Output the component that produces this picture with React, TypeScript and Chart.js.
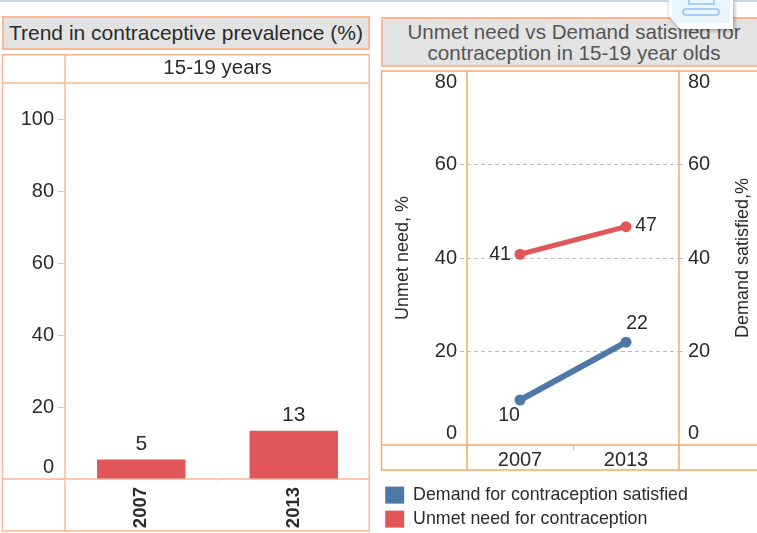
import React, { useEffect, useRef } from "react";
import { Chart, registerables } from "chart.js";

Chart.register(...registerables);

const years = ["2007", "2013"];
const prevalence = [5.4, 13.4];
const prevalenceTicks = [0, 20, 40, 60, 80, 100];
const demandSatisfied = [9.6, 22];
const unmetNeed = [40.8, 46.7];
const pairTicks = [0, 20, 40, 60, 80];

const FONT = "'Liberation Sans', Arial, sans-serif";
const INK = "#2b2b2b";
const RED = "#e15759";
const BLUE = "#4e79a7";
const PEACH = "#fdb795";
const ORANGE = "#f6ab68";
const GRID = "#bdbdbd";

const round = (v: number) => String(Math.round(v));

const framePlugin = {
  id: "frame",
  beforeDraw(chart: any, _a: any, o: any) {
    const { ctx, chartArea: c, width } = chart;
    const bottom = o.bottom ?? chart.height - 1 - c.bottom;
    const l = o.left ?? 1.5;
    ctx.save();
    ctx.strokeStyle = o.color;
    ctx.lineWidth = 1.5;
    ctx.beginPath();
    ctx.moveTo(width, o.top);
    ctx.lineTo(l, o.top);
    ctx.lineTo(l, c.bottom + bottom);
    ctx.lineTo(width, c.bottom + bottom);
    ctx.moveTo(l, c.bottom);
    ctx.lineTo(width, c.bottom);
    ctx.moveTo(c.left, o.top);
    ctx.lineTo(c.left, c.bottom + bottom);
    ctx.moveTo(c.right - (o.edgeInset ?? 0), o.top);
    ctx.lineTo(c.right - (o.edgeInset ?? 0), c.bottom + bottom);
    if (o.topLine) {
      ctx.moveTo(l, c.top);
      ctx.lineTo(width, c.top);
    }
    ctx.stroke();
    ctx.restore();
  },
};

const valueLabelPlugin = {
  id: "valueLabels",
  afterDatasetsDraw(chart: any, _a: any, o: any) {
    const { ctx } = chart;
    ctx.save();
    ctx.font = `${o.size}px ${FONT}`;
    ctx.fillStyle = INK;
    ctx.textAlign = "center";
    ctx.textBaseline = "middle";
    chart.data.datasets.forEach((ds: any, di: number) => {
      chart.getDatasetMeta(di).data.forEach((el: any, i: number) => {
        const [dx, dy] = o.offsets[di][i];
        ctx.fillText(round(ds.data[i]), el.x + dx, el.y + dy);
      });
    });
    ctx.restore();
  },
};

const rightTitlePlugin = {
  id: "rightTitle",
  afterDraw(chart: any, _a: any, o: any) {
    if (!o.text) return;
    const { ctx, chartArea: c } = chart;
    ctx.save();
    ctx.translate(c.right + o.gap, (c.top + c.bottom) / 2);
    ctx.rotate(-Math.PI / 2);
    ctx.font = `${o.size}px ${FONT}`;
    ctx.fillStyle = INK;
    ctx.textAlign = "center";
    ctx.textBaseline = "middle";
    ctx.fillText(o.text, 0, 0);
    ctx.restore();
  },
};

function fixWidth(w: number) {
  return (s: any) => {
    s.width = w;
    s.paddingTop = 0;
    s.paddingBottom = 0;
  };
}
function fixHeight(h: number) {
  return (s: any) => {
    s.height = h;
    s.paddingLeft = 0;
    s.paddingRight = 0;
  };
}

const pairTickFont = (c: any) => ({
  family: FONT,
  size: 20,
  lineHeight: c.tick && c.tick.value === 80 ? 1.1 : 1.2,
});
const pairTickLabel = (v: any) => (v === 0 ? ["0", ""] : v === 80 ? ["", "80"] : String(v));

export default function App() {
  const leftRef = useRef<HTMLCanvasElement>(null);
  const rightRef = useRef<HTMLCanvasElement>(null);

  useEffect(() => {
    const left = new Chart(leftRef.current!, {
      type: "bar",
      data: {
        labels: years,
        datasets: [
          {
            label: "Contraceptive prevalence",
            data: prevalence,
            backgroundColor: RED,
            categoryPercentage: 1,
            barPercentage: 0.58,
          },
        ],
      },
      plugins: [framePlugin, valueLabelPlugin],
      options: {
        animation: false,
        responsive: false,
        layout: { padding: 0 },
        plugins: {
          legend: { display: false },
          tooltip: { enabled: false },
          title: {
            display: true,
            text: "15-19 years",
            fullSize: false,
            color: INK,
            font: { family: FONT, size: 20.5, weight: "normal" },
            padding: { top: 2, bottom: 2.4 },
          },
          frame: { color: PEACH, top: 0.75, topLine: true, edgeInset: 0.75 },
          valueLabels: { size: 21, offsets: [[[0, -15], [0, -16]]] },
        } as any,
        scales: {
          x: {
            afterFit: fixHeight(53),
            border: { display: false },
            grid: { drawOnChartArea: false, tickLength: 5, tickColor: "#f3f3f3" },
            ticks: {
              color: INK,
              font: { family: FONT, size: 18.5, weight: "bold" },
              minRotation: 90,
              maxRotation: 90,
              padding: 3,
            },
          },
          y: {
            min: 0,
            max: 110,
            afterFit: fixWidth(64),
            afterBuildTicks: (s: any) => {
              s.ticks = prevalenceTicks.map((value) => ({ value }));
            },
            border: { display: false },
            grid: { drawOnChartArea: false, tickLength: 7, tickColor: PEACH },
            ticks: {
              color: INK,
              font: { family: FONT, size: 20 },
              padding: 4,
              callback: (v: any) => (v === 0 ? ["0", ""] : String(v)),
            },
          },
        },
      },
    } as any);

    const right = new Chart(rightRef.current!, {
      type: "line",
      data: {
        labels: years,
        datasets: [
          {
            label: "Demand for contraception satisfied",
            data: demandSatisfied,
            borderColor: BLUE,
            backgroundColor: BLUE,
            borderWidth: 6,
            pointRadius: 5.5,
            pointBackgroundColor: BLUE,
            pointBorderWidth: 0,
          },
          {
            label: "Unmet need for contraception",
            data: unmetNeed,
            borderColor: RED,
            backgroundColor: RED,
            borderWidth: 5,
            pointRadius: 5.5,
            pointBackgroundColor: RED,
            pointBorderWidth: 0,
          },
        ],
      },
      plugins: [framePlugin, valueLabelPlugin, rightTitlePlugin],
      options: {
        animation: false,
        responsive: false,
        layout: { padding: { top: 1 }, autoPadding: false },
        plugins: {
          tooltip: { enabled: false },
          legend: {
            position: "bottom",
            align: "start",
            labels: {
              color: INK,
              font: { family: FONT, size: 17.8 },
              boxWidth: 19,
              boxHeight: 17,
              padding: 6.2,
              generateLabels: (c: any) =>
                (Chart.defaults.plugins.legend.labels as any)
                  .generateLabels(c)
                  .map((l: any) => ({ ...l, lineWidth: 0 })),
            },
          },
          frame: { color: ORANGE, top: 1, bottom: 25, left: 2.5 },
          valueLabels: {
            size: 19.5,
            offsets: [
              [[-11, 16], [11, -19]],
              [[-20, 0], [20, -1]],
            ],
          },
          rightTitle: { text: "Demand satisfied,%", size: 18, gap: 64 },
        } as any,
        scales: {
          x: {
            offset: true,
            afterFit: fixHeight(35),
            border: { display: false },
            grid: { offset: true, drawOnChartArea: false, tickLength: 5, tickColor: ORANGE },
            ticks: {
              color: INK,
              font: { family: FONT, size: 20 },
              padding: -2,
              maxRotation: 0,
            },
          },
          y: {
            position: "left",
            min: 0,
            max: 80,
            afterFit: fixWidth(88),
            afterBuildTicks: (s: any) => {
              s.ticks = pairTicks.map((value) => ({ value }));
            },
            title: {
              display: true,
              text: "Unmet need, %",
              color: INK,
              font: { family: FONT, size: 18 },
              padding: { top: 13, bottom: 0 },
            },
            border: { display: false, dash: [4, 3] },
            grid: {
              tickLength: 7,
              tickBorderDash: [4, 3],
              color: (c: any) => (c.tick && c.tick.value % 80 ? GRID : "transparent"),
              tickColor: (c: any) => (c.tick && c.tick.value % 80 ? GRID : "transparent"),
            },
            ticks: {
              color: INK,
              font: pairTickFont,
              padding: 3,
              callback: pairTickLabel,
            },
          },
          y2: {
            position: "right",
            min: 0,
            max: 80,
            afterFit: fixWidth(78),
            afterBuildTicks: (s: any) => {
              s.ticks = pairTicks.map((value) => ({ value }));
            },
            border: { display: false },
            grid: {
              drawOnChartArea: false,
              tickLength: 7,
              tickBorderDash: [4, 3],
              tickColor: (c: any) => (c.tick && c.tick.value % 80 ? GRID : "transparent"),
            },
            ticks: {
              color: INK,
              font: pairTickFont,
              padding: 2,
              callback: pairTickLabel,
            },
          },
        },
      },
    } as any);

    return () => {
      left.destroy();
      right.destroy();
    };
  }, []);

  const titleBox: React.CSSProperties = {
    position: "absolute",
    boxSizing: "border-box",
    background: "#e3e3e3",
    border: `2px solid ${PEACH}`,
    fontFamily: FONT,
    textAlign: "center",
    overflow: "hidden",
    whiteSpace: "nowrap",
  };

  return (
    <div style={{ position: "absolute", left: 0, top: 0, width: 757, height: 533, overflow: "hidden", background: "#fff" }}>
      <div style={{ position: "absolute", left: 0, top: 0, width: 757, height: 2, background: "#c9d8ec" }} />
      <div style={{ ...titleBox, left: 2, top: 16, width: 368, height: 34, fontSize: 21, lineHeight: "30px", color: INK }}>
        Trend in contraceptive prevalence (%)
      </div>
      <div style={{ ...titleBox, left: 381, top: 17, width: 386, height: 50, fontSize: 20.6, lineHeight: "21px", color: "#555", paddingTop: 2 }}>
        Unmet need vs Demand satisfied for
        <br />
        contraception in 15-19 year olds
      </div>
      <canvas ref={leftRef} width={369} height={478} style={{ position: "absolute", left: 1, top: 54 }} />
      <canvas ref={rightRef} width={378} height={468} style={{ position: "absolute", left: 379, top: 70 }} />
      <div style={{ position: "absolute", left: 669, top: 0, width: 64, height: 29, filter: "drop-shadow(1px 1px 2px rgba(0,0,0,0.4))" }}>
        <div style={{ position: "absolute", inset: 0, background: "#fff", clipPath: "polygon(0 0, 100% 0, 100% 100%, 11px 100%, 0 16px)" }}>
          <div style={{ position: "absolute", left: 3, top: 0, width: 58, height: 23, background: "#eaf6ff" }} />
          <div style={{ position: "absolute", left: 19, top: -2, width: 27, height: 7, border: "2px solid #a9cdf5", boxSizing: "border-box" }} />
          <div style={{ position: "absolute", left: 13, top: 8, width: 38, height: 8, border: "2px solid #a9cdf5", borderRadius: 4, boxSizing: "border-box" }} />
        </div>
      </div>
    </div>
  );
}
